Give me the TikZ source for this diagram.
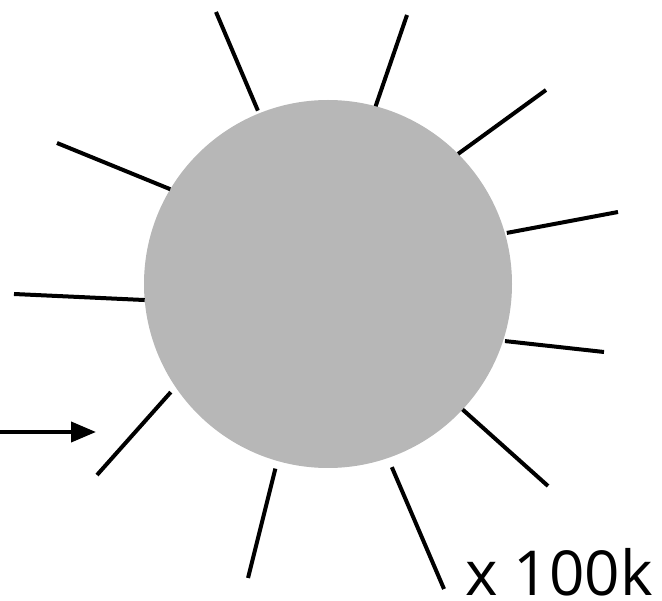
\documentclass[tikz,border=0pt]{standalone}
\usepackage{fontspec}
\setmainfont{Open Sans}
\usetikzlibrary{arrows.meta}

\begin{document}
\begin{tikzpicture}[
  x=1pt, y=-1pt,
  ball/.style={circle, fill={rgb,255:red,183;green,183;blue,183}, minimum size=368pt, inner sep=0pt, outer sep=0pt},
  spike/.style={line width=4pt},
  edge/.style={-{Triangle[length=25pt, width=20pt]}, line width=4pt}
]
\useasboundingbox (0,0) rectangle (662,601);
\node[ball] (core) at (328,284) {};

\coordinate (s1) at (216,12);
\coordinate (s2) at (407,15);
\coordinate (s3) at (546,90);
\coordinate (s4) at (618,212);
\coordinate (s5) at (57,143);
\coordinate (s6) at (14,294);
\coordinate (s7) at (604,352);
\coordinate (s8) at (97,475);
\coordinate (s9) at (548,486);
\coordinate (s10) at (248,578);
\coordinate (s11) at (444,589);

\draw[spike, shorten <=3pt] (core.112.3) -- (s1);
\draw[spike] (core.75.1) -- (s2);
\draw[spike] (core.45) -- (s3);
\draw[spike, shorten <=2pt] (core.16.6) -- (s4);
\draw[spike] (core.149.2) -- (s5);
\draw[spike] (core.185.5) -- (s6);
\draw[spike, shorten <=2pt] (core.-18.5) -- (s7);
\draw[spike, shorten <=7pt] (core.214.9) -- (s8);
\draw[spike] (core.-43.6) -- (s9);
\draw[spike, shorten <=8pt] (core.-106.4) -- (s10);
\draw[spike, shorten <=10pt] (core.-71.4) -- (s11);

\coordinate (src) at (0,432);
\coordinate (dst) at (96,432);
\draw[edge] (src) -- (dst);

\node[anchor=base west, inner sep=0pt, font=\fontsize{62}{66}\selectfont] (count) at (465,595) {x 100k};
\end{tikzpicture}
\end{document}
